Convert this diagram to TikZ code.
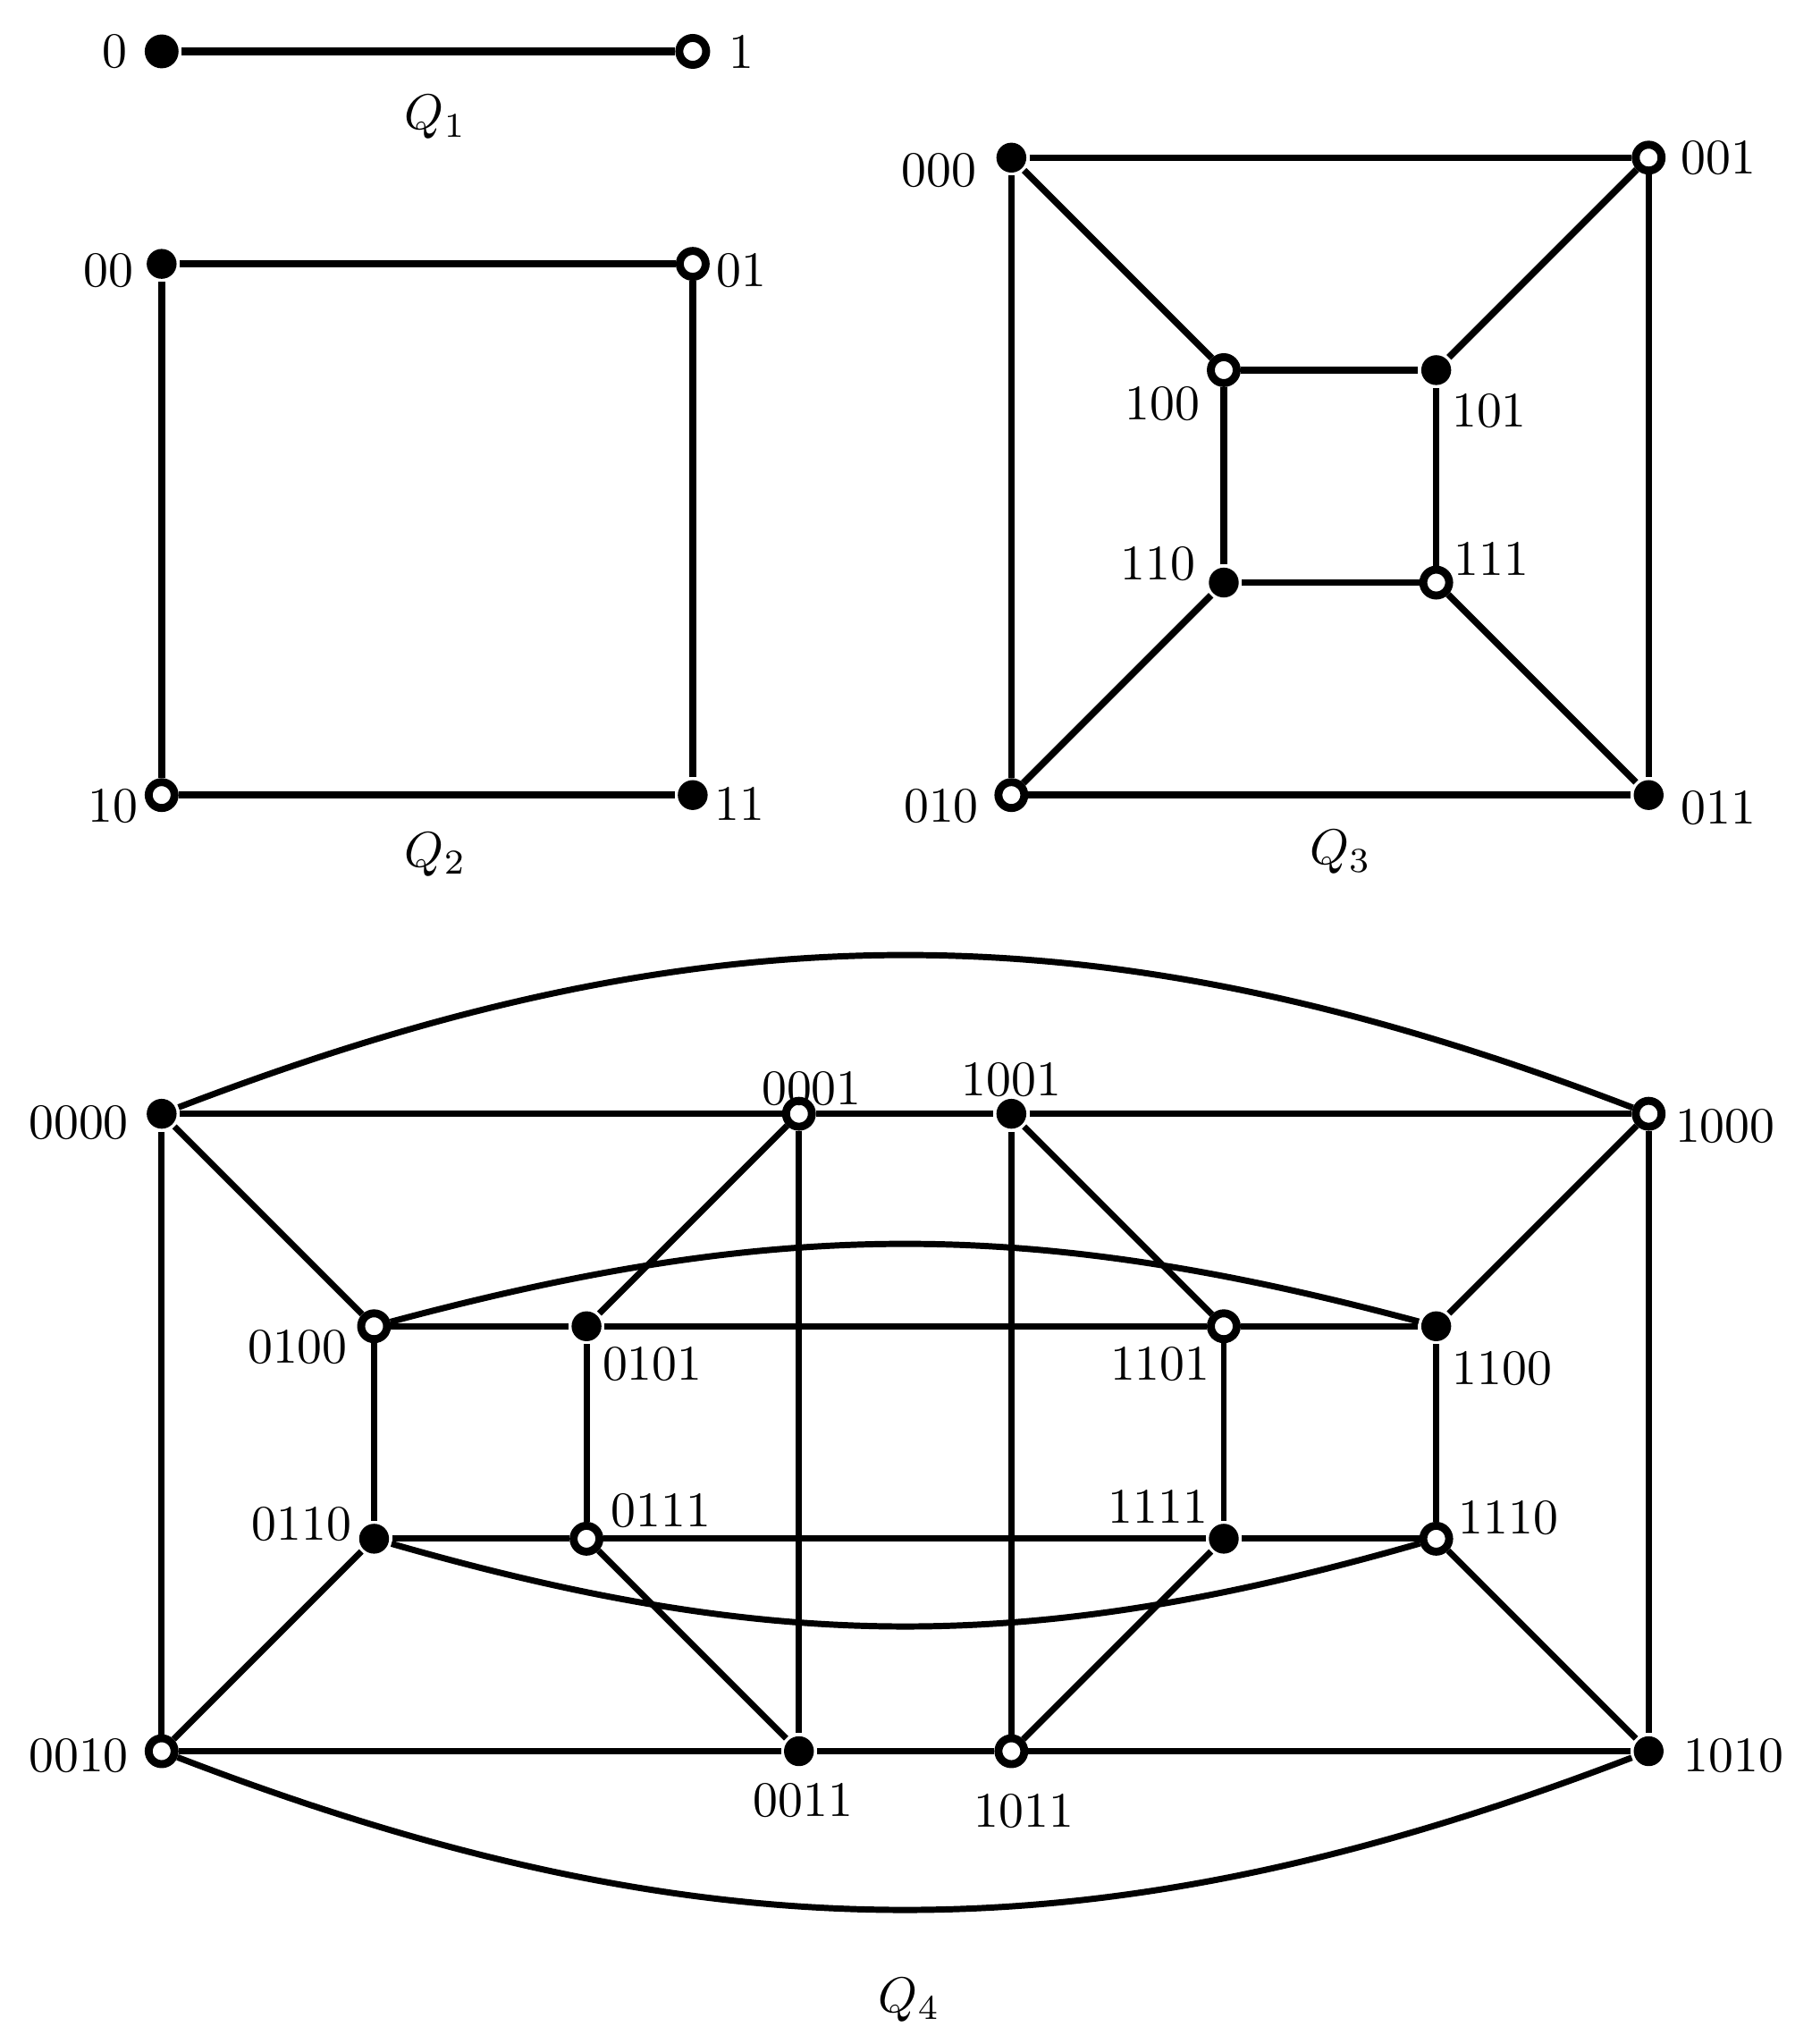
\documentclass[tikz,border=0pt]{standalone}
\tikzset{
  blk/.style={circle,fill=black,inner sep=0pt,minimum size=6pt},
  wht/.style={circle,draw=black,fill=white,line width=1.6pt,inner sep=0pt,minimum size=5.2pt},
}
\begin{document}
\begin{tikzpicture}[x=1.5cm,y=1.5cm,line width=1.25pt]
        \useasboundingbox (-0.761,-1.378) rectangle (7.767,8.242);
        % Q1
        \node[blk,minimum size=6.8pt] (v0) at (0,8) {};
        \node[wht,minimum size=5.4pt] (v1) at (2.5,8) {};
        \draw[line width=1.5pt] (v0) -- (v1);
        \node (l0) at (-0.22,8) {0};
        \node (l1) at (2.73,8) {1};
        \node (q1) at (1.29,7.69) {$Q_1$};

        % Q2
        \node[blk] (v00) at (0,7) {};
        \node[wht] (v01) at (2.5,7) {};
        \node[wht] (v10) at (0,4.5) {};
        \node[blk] (v11) at (2.5,4.5) {};
        \draw[line width=1.35pt] (v00) -- (v01) -- (v11) -- (v10) -- (v00);
        \node (l00) at (-0.25,6.97) {00};
        \node (l01) at (2.73,6.97) {01};
        \node (l10) at (-0.23,4.45) {10};
        \node (l11) at (2.72,4.46) {11};
        \node (q2) at (1.29,4.22) {$Q_2$};

        % Q3
        \node[blk] (v000) at (4,7.5) {};
        \node[wht] (v001) at (7,7.5) {};
        \node[wht] (v010) at (4,4.5) {};
        \node[blk] (v011) at (7,4.5) {};
        \node[wht] (v100) at (5,6.5) {};
        \node[blk] (v101) at (6,6.5) {};
        \node[blk] (v110) at (5,5.5) {};
        \node[wht] (v111) at (6,5.5) {};
        \draw[line width=1.35pt] (v000) -- (v001) -- (v011) -- (v010) -- (v000);
        \draw[line width=1.35pt] (v100) -- (v101) -- (v111) -- (v110) -- (v100);
        \draw[line width=1.35pt] (v000) -- (v100);
        \draw[line width=1.35pt] (v001) -- (v101);
        \draw[line width=1.35pt] (v010) -- (v110);
        \draw[line width=1.35pt] (v011) -- (v111);
        \node (l000) at (3.66,7.44) {000};
        \node (l001) at (7.33,7.5) {001};
        \node (l010) at (3.67,4.45) {010};
        \node (l011) at (7.33,4.44) {011};
        \node (l100) at (4.71,6.34) {100};
        \node (l101) at (6.25,6.31) {101};
        \node (l110) at (4.69,5.59) {110};
        \node (l111) at (6.26,5.61) {111};
        \node (q3) at (5.55,4.23) {$Q_3$};

        % Q4
        \node[blk] (v0000) at (0,3) {};
        \node[wht] (v0001) at (3,3) {};
        \node[blk] (v1001) at (4,3) {};
        \node[wht] (v1000) at (7,3) {};
        \node[wht] (v0100) at (1,2) {};
        \node[blk] (v0101) at (2,2) {};
        \node[wht] (v1101) at (5,2) {};
        \node[blk] (v1100) at (6,2) {};
        \node[blk] (v0110) at (1,1) {};
        \node[wht] (v0111) at (2,1) {};
        \node[blk] (v1111) at (5,1) {};
        \node[wht] (v1110) at (6,1) {};
        \node[wht] (v0010) at (0,0) {};
        \node[blk] (v0011) at (3,0) {};
        \node[wht] (v1011) at (4,0) {};
        \node[blk] (v1010) at (7,0) {};
        \draw (v0000) -- (v0001) -- (v1001) -- (v1000);
        \draw (v0100) -- (v0101) -- (v1101) -- (v1100);
        \draw (v0110) -- (v0111) -- (v1111) -- (v1110);
        \draw (v0010) -- (v0011) -- (v1011) -- (v1010);
        \draw (v0000) -- (v0010);
        \draw (v0001) -- (v0011);
        \draw (v1001) -- (v1011);
        \draw (v1000) -- (v1010);
        \draw (v0100) -- (v0110);
        \draw (v0101) -- (v0111);
        \draw (v1101) -- (v1111);
        \draw (v1100) -- (v1110);
        \draw (v0000) -- (v0100);
        \draw (v0001) -- (v0101);
        \draw (v1001) -- (v1101);
        \draw (v1000) -- (v1100);
        \draw (v0110) -- (v0010);
        \draw (v0111) -- (v0011);
        \draw (v1111) -- (v1011);
        \draw (v1110) -- (v1010);
        \draw (v0000) to[bend left=21] (v1000);
        \draw (v0010) to[bend right=21] (v1010);
        \draw (v0100) to[bend left=15] (v1100);
        \draw (v0110) to[bend right=16] (v1110);
        \node (l0000) at (-0.39,2.96) {0000};
        \node (l0001) at (3.06,3.12) {0001};
        \node (l1001) at (4,3.16) {1001};
        \node (l1000) at (7.36,2.94) {1000};
        \node (l0100) at (0.64,1.9) {0100};
        \node (l0101) at (2.31,1.82) {0101};
        \node (l1101) at (4.7,1.82) {1101};
        \node (l1100) at (6.31,1.8) {1100};
        \node (l0110) at (0.66,1.07) {0110};
        \node (l0111) at (2.35,1.13) {0111};
        \node (l1111) at (4.69,1.15) {1111};
        \node (l1110) at (6.34,1.1) {1110};
        \node (l0010) at (-0.39,-0.02) {0010};
        \node (l0011) at (3.02,-0.23) {0011};
        \node (l1011) at (4.06,-0.28) {1011};
        \node (l1010) at (7.4,-0.02) {1010};
        \node (q4) at (3.52,-1.17) {$Q_4$};

      \end{tikzpicture}
\end{document}
